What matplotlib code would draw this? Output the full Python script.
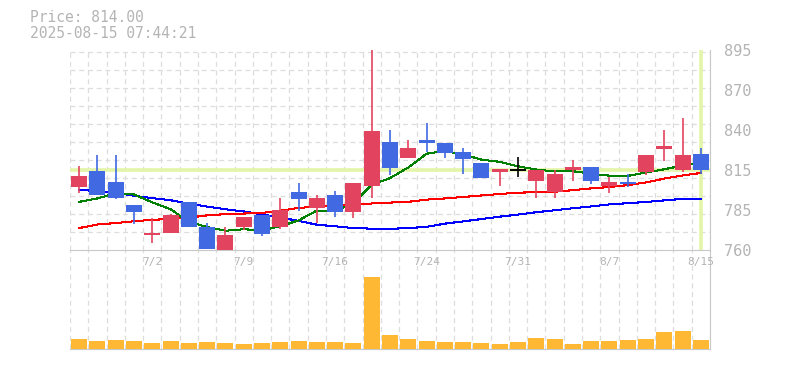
import matplotlib
matplotlib.use("Agg")
import matplotlib.pyplot as plt
import numpy as np

title_price = "Price: 814.00"
title_time = "2025-08-15 07:44:21"

dates = ["6/26", "6/27", "6/30", "7/1", "7/2", "7/3", "7/4", "7/7", "7/8", "7/9",
         "7/10", "7/11", "7/14", "7/15", "7/16", "7/17", "7/18", "7/22", "7/23", "7/24",
         "7/25", "7/28", "7/29", "7/30", "7/31", "8/1", "8/4", "8/5", "8/6", "8/7",
         "8/8", "8/12", "8/13", "8/14", "8/15"]

opens  = [802.5, 813.2, 805.7, 790.7, 769.8, 771.8, 792.7, 775.7, 760.0, 775.7,
          783.9, 775.5, 798.9, 788.4, 796.8, 785.4, 803.2, 833.0, 822.2, 834.3,
          832.3, 826.1, 818.8, 812.7, 814.0, 806.6, 799.1, 813.9, 815.9, 803.0,
          805.9, 812.7, 828.4, 814.1, 824.8]
highs  = [816.6, 824.1, 824.1, 790.7, 781.6, 784.5, 792.7, 778.2, 775.5, 782.5,
          783.9, 794.8, 805.0, 796.8, 799.5, 805.0, 895.5, 841.1, 834.3, 845.9,
          832.3, 828.9, 818.8, 814.5, 822.7, 813.9, 813.9, 820.9, 815.9, 809.1,
          811.1, 824.3, 841.1, 849.3, 828.9]
lows   = [798.4, 796.8, 794.5, 777.3, 765.0, 771.8, 775.2, 760.5, 760.0, 773.6,
          769.5, 774.5, 786.6, 778.2, 782.0, 781.3, 795.0, 810.7, 822.2, 826.3,
          821.8, 811.3, 808.4, 803.2, 809.3, 794.8, 794.8, 806.6, 804.5, 798.4,
          802.5, 810.7, 820.2, 812.7, 811.3]
closes = [809.8, 797.0, 794.8, 785.4, 771.8, 783.9, 775.2, 760.5, 770.2, 782.5,
          771.1, 787.3, 794.1, 795.3, 785.4, 805.0, 840.5, 815.4, 828.9, 832.5,
          825.8, 821.4, 808.4, 814.5, 814.0, 813.9, 811.1, 815.9, 806.6, 805.7,
          804.5, 824.3, 830.2, 824.1, 814.0]

ma_short = [792.5, 794.8, 798.2, 797.5, 792.2, 787.5, 779.0, 775.5, 773.0, 774.0,
            773.3, 776.0, 780.0, 786.6, 786.6, 791.5, 804.0, 808.5, 815.7, 825.0,
            826.8, 824.5, 821.0, 819.5, 816.5, 814.3, 813.0, 813.2, 811.5, 810.2,
            810.0, 812.3, 814.5, 817.0, 819.0]
ma_mid = [774.8, 777.2, 778.2, 779.4, 780.4, 780.9, 781.8, 783.4, 784.2, 784.6,
          785.0, 786.5, 788.4, 789.3, 789.8, 790.6, 791.4, 792.0, 792.5, 794.0,
          794.8, 795.8, 796.8, 797.8, 798.7, 799.0, 799.3, 800.4, 801.6, 802.5,
          803.8, 805.6, 808.2, 810.3, 812.0]
ma_long = [800.6, 799.8, 798.7, 796.6, 795.0, 793.6, 791.3, 789.3, 787.5, 786.0,
           784.0, 782.0, 779.6, 777.1, 776.0, 774.8, 774.4, 774.3, 774.8, 775.6,
           777.8, 779.3, 780.9, 782.5, 783.9, 785.5, 786.8, 788.2, 789.4, 790.8,
           791.6, 792.4, 793.5, 794.5, 794.6]

volumes = [103, 83, 93, 83, 63, 83, 63, 73, 63, 53,
           63, 73, 83, 73, 73, 63, 723, 143, 103, 83,
           73, 73, 63, 53, 73, 113, 103, 53, 83, 83,
           93, 103, 173, 183, 93]

cross_price = 814.0

y_ticks = [760, 787, 814, 841, 868, 895]
y_labels = ["760", "785", "815", "840", "870", "895"]

UP = "#e24460"
DOWN = "#4169e1"
GRID = "#dddddd"
TXT = "#b4b4b4"
SPINE = "#c8c8c8"

fig = plt.figure(figsize=(7.85, 3.7), dpi=100)
axv = fig.add_axes([70 / 785, 20.7 / 370, 640 / 785, 99.3 / 370])
ax = fig.add_axes([70 / 785, 120 / 370, 640 / 785, 200 / 370])
axv.patch.set_alpha(0)
ax.patch.set_alpha(0)

n = len(dates)
x = np.arange(n)
o = np.array(opens); c = np.array(closes)
h = np.array(highs); l = np.array(lows)

for a in (ax, axv):
    a.set_xlim(-0.5, n - 0.5)
    a.set_xticks(np.arange(n + 1) - 0.5, minor=True)
    a.grid(True, which="minor", axis="x", color=GRID, linestyle=(0, (4, 3)), linewidth=0.9)
    a.tick_params(which="both", length=0)
    for s in ("top", "left"):
        a.spines[s].set_visible(False)
    for s in ("right", "bottom"):
        a.spines[s].set_color(SPINE)
    a.set_axisbelow(True)

# price panel
ax.set_ylim(760, 895)
ax.set_yticks(760 + np.arange(12) * 12.15, minor=True)
ax.grid(True, which="minor", axis="y", color=GRID, linestyle=(0, (4, 3)), linewidth=0.9)
ax.yaxis.tick_right()
ax.set_yticks(y_ticks)
ax.set_yticklabels(y_labels, family="DejaVu Sans Mono", fontsize=11, color=TXT)
ax.tick_params(axis="y", pad=10)
ax.set_xticks(x[4::5])
ax.set_xticklabels(dates[4::5], family="DejaVu Sans Mono", fontsize=8, color=TXT)
ax.tick_params(axis="x", pad=5)

ax.axhline(cross_price, color="#e3f5a8", linewidth=2.6, zorder=1.5)
ax.axvline(x[-1], color="#e3f5a8", linewidth=2.6, zorder=1.5)

ax.plot(x, ma_long, color="#0000ff", linewidth=0.75, zorder=2, antialiased=False)
ax.plot(x, ma_mid, color="#ff0000", linewidth=0.75, zorder=2, antialiased=False)
ax.plot(x, ma_short, color="#008000", linewidth=0.75, zorder=2, antialiased=False)

for i in range(n):
    if c[i] > o[i]:
        col = UP
    elif c[i] < o[i]:
        col = DOWN
    else:
        col = "black"
    ax.vlines(x[i], l[i], h[i], color=col, linewidth=1.2, zorder=3)
    if col == "black":
        ax.hlines(o[i], x[i] - 0.42, x[i] + 0.42, color=col, linewidth=1.4, zorder=3)
    else:
        ax.bar(x[i], abs(c[i] - o[i]), bottom=min(o[i], c[i]), width=0.875,
               color=col, zorder=3)

# volume panel
axv.bar(x, volumes, width=0.875, color="#ffb833", zorder=3)
axv.set_ylim(0, max(volumes) * 99.3 / 72.3)
axv.set_yticks([])
axv.set_xticks([])

fig.text(30 / 785, 1 - 18 / 370, title_price, family="DejaVu Sans Mono", fontsize=10.5,
         color=TXT, va="center", ha="left")
fig.text(30 / 785, 1 - 33 / 370, title_time, family="DejaVu Sans Mono", fontsize=10.5,
         color=TXT, va="center", ha="left")

fig.savefig("out.png", dpi=100)
